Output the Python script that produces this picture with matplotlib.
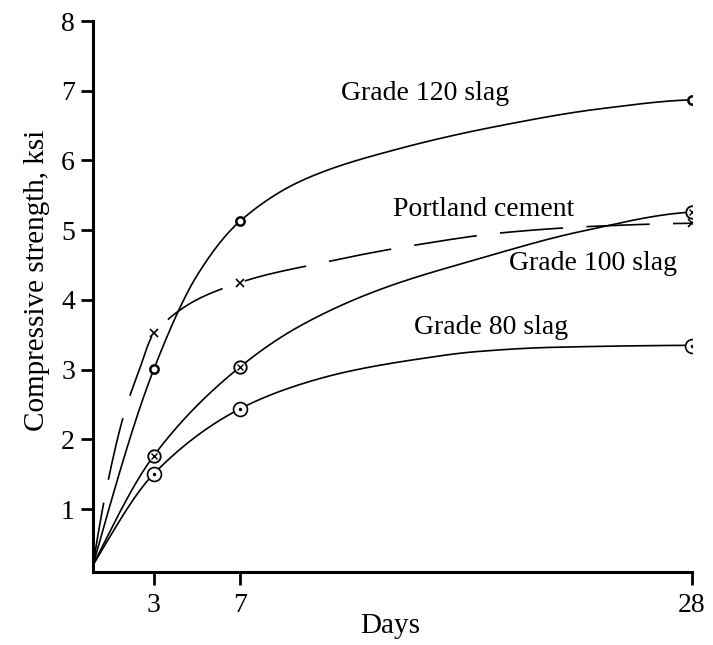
import numpy as np
import matplotlib
matplotlib.use("Agg")
import matplotlib.pyplot as plt

# ---- data ----
g120_days = [0.17, 3, 5.1, 7, 10, 14.4, 19.1, 23.7, 28]
g120_vals = [0.2, 3.01, 4.4, 5.13, 5.73, 6.17, 6.5, 6.74, 6.87]

pc_days = [0.17, 0.8, 1.6, 2.3, 3, 7, 10.6, 15, 19.4, 23.7, 28]
pc_vals = [0.2, 1.3, 2.35, 2.98, 3.52, 4.25, 4.52, 4.78, 4.97, 5.06, 5.1]

g100_days = [0.17, 3, 7, 9.8, 13.5, 18.2, 22.8, 28]
g100_vals = [0.2, 1.77, 3.04, 3.63, 4.15, 4.6, 4.98, 5.26]

g80_days = [0.17, 3, 7, 9.8, 12.1, 15, 18, 21.4, 28]
g80_vals = [0.2, 1.51, 2.44, 2.79, 2.98, 3.14, 3.26, 3.32, 3.35]

marker_days = [3, 7, 28]
g120_marks = [3.01, 5.13, 6.87]
pc_marks = [3.52, 4.25, 5.1]
g100_marks = [1.77, 3.04, 5.26]
g80_marks = [1.51, 2.44, 3.34]

x_ticks = [3, 7, 28]
y_ticks = [1, 2, 3, 4, 5, 6, 7, 8]


def pchip(x, y, xs):
    x = np.asarray(x, float); y = np.asarray(y, float)
    h = np.diff(x); d = np.diff(y) / h
    n = len(x); m = np.zeros(n)
    for k in range(1, n - 1):
        if d[k - 1] * d[k] > 0:
            w1 = 2 * h[k] + h[k - 1]; w2 = h[k] + 2 * h[k - 1]
            m[k] = (w1 + w2) / (w1 / d[k - 1] + w2 / d[k])
    m[0] = d[0] * 1.1; m[-1] = d[-1] * 0.3
    out = np.empty_like(xs)
    idx = np.clip(np.searchsorted(x, xs) - 1, 0, n - 2)
    for i, xv in enumerate(xs):
        k = idx[i]; t = (xv - x[k]) / h[k]
        h00 = 2 * t**3 - 3 * t**2 + 1; h10 = t**3 - 2 * t**2 + t
        h01 = -2 * t**3 + 3 * t**2; h11 = t**3 - t**2
        out[i] = h00 * y[k] + h10 * h[k] * m[k] + h01 * y[k + 1] + h11 * h[k] * m[k + 1]
    return out


plt.rcParams['font.family'] = ['Liberation Serif', 'DejaVu Serif']

fig = plt.figure(figsize=(7.13, 6.45), dpi=100)
ax = fig.add_axes([93 / 713, 1 - 572 / 645, 599 / 713, 551 / 645])

lw = 1.2
for dd, vv in [(g120_days, g120_vals), (g100_days, g100_vals), (g80_days, g80_vals)]:
    xs = np.linspace(dd[0], dd[-1], 600)
    ax.plot(xs, pchip(dd, vv, xs), color='black', lw=lw)

xs = np.linspace(pc_days[0], pc_days[-1], 600)
ax.plot(xs, pchip(pc_days, pc_vals, xs), color='black', lw=lw, dashes=(38, 14))

# markers
ax.plot(marker_days, g120_marks, 'o', ms=6, mfc='white', mec='black', mew=1.8, zorder=5)
ax.plot(marker_days, pc_marks, 'x', ms=6, mec='black', mew=1.2, zorder=5)
ax.plot(marker_days, g100_marks, 'o', ms=9, mfc='white', mec='black', mew=1.3, zorder=5)
ax.plot(marker_days, g100_marks, 'x', ms=5, mec='black', mew=1.0, zorder=6)
ax.plot(marker_days, g80_marks, 'o', ms=10, mfc='white', mec='black', mew=1.2, zorder=5)
ax.plot(marker_days, g80_marks, 'o', ms=2, mfc='black', mec='black', mew=0.5, zorder=6)

fs = 20
ax.text(11.7, 6.96, 'Grade 120 slag', fontsize=fs, ha='left', va='center')
ax.text(14.1, 5.30, 'Portland cement', fontsize=fs, ha='left', va='center')
ax.text(19.5, 4.53, 'Grade 100 slag', fontsize=fs, ha='left', va='center')
ax.text(15.1, 3.60, 'Grade 80 slag', fontsize=fs, ha='left', va='center')

ax.set_xlim(0.17, 28)
ax.set_ylim(0.1, 8)
ax.set_xticks(x_ticks)
ax.set_yticks(y_ticks)
ax.tick_params(axis='both', labelsize=20, width=2, length=9, direction='out', color='black')
ax.tick_params(axis='x', pad=6)
ax.tick_params(axis='y', pad=4)
for s in ['top', 'right']:
    ax.spines[s].set_visible(False)
for s in ['left', 'bottom']:
    ax.spines[s].set_linewidth(2.2)

ax.set_xlabel('Days', fontsize=21)
ax.set_ylabel('Compressive strength, ksi', fontsize=21)
ax.xaxis.set_label_coords(0.496, -0.075)
ax.yaxis.set_label_coords(-0.072, 0.53)

fig.savefig('out.png', dpi=100)
